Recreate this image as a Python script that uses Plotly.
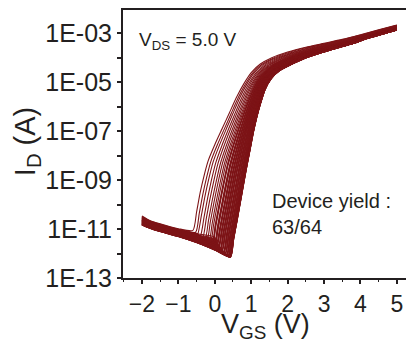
import plotly.graph_objects as go

# ---- data (log10 of drain current) ----
# rising branch of the earliest-turn-on device (VGS, log10 ID)
vgs_left = [-0.60, -0.50, -0.40, -0.30, -0.18, 0.0, 0.2, 0.4, 0.6, 0.8,
            1.0, 1.25, 1.55, 2.0, 2.5, 3.0, 3.5, 4.0, 4.5, 5.0]
logid_left = [-11.05, -10.3, -9.5, -8.85, -8.2, -7.55, -6.9, -6.25, -5.6, -5.05,
              -4.6, -4.25, -4.0, -3.76, -3.56, -3.4, -3.24, -3.05, -2.85, -2.65]
# rising branch of the latest-turn-on device
vgs_right = [0.43, 0.52, 0.62, 0.74, 0.86, 0.97, 1.06, 1.15, 1.25, 1.38,
             1.55, 1.78, 2.07, 2.45, 2.9, 3.35, 3.8, 4.2, 4.6, 5.0]
logid_right = [-12.15, -11.4, -10.6, -9.6, -8.6, -7.75, -7.05, -6.45, -5.9, -5.3,
               -4.85, -4.52, -4.29, -4.03, -3.8, -3.6, -3.41, -3.2, -3.03, -2.86]
# off-state branch (upper and lower edges of the band)
off_vgs = [-2.0, -1.8, -1.5, -1.0, -0.5, 0.0, 0.5]
off_top = [-10.42, -10.6, -10.75, -10.95, -11.1, -11.2, -11.3]
off_bottom = [-10.83, -10.95, -11.1, -11.3, -11.55, -11.85, -12.2]
# position of each of the 63 working devices within the threshold spread
device_shift = [0.0, 0.07, 0.13, 0.2, 0.26, 0.32, 0.37, 0.42, 0.46,
                0.5, 0.51, 0.52, 0.56, 0.57, 0.58, 0.585,
                0.62, 0.63, 0.635, 0.64, 0.67, 0.68, 0.685, 0.69,
                0.72, 0.725, 0.73, 0.74, 0.765, 0.77, 0.775, 0.78,
                0.81, 0.815, 0.82, 0.825, 0.83, 0.855, 0.86, 0.865, 0.87,
                0.895, 0.9, 0.905, 0.91, 0.915, 0.935, 0.94, 0.945, 0.95,
                0.955, 0.97, 0.973, 0.976, 0.98, 0.983, 0.986, 0.99, 0.993,
                0.995, 0.997, 0.999, 1.0]
# position of each device within the off-current band
device_off = [0.1, 0.3, 0.2, 0.5, 0.15, 0.4, 0.25, 0.6, 0.35, 0.7, 0.45, 0.55,
              0.3, 0.8, 0.5, 0.65, 0.2, 0.75, 0.4, 0.9, 0.6, 0.35, 0.85, 0.5,
              0.7, 0.45, 0.95, 0.55, 0.65, 0.3, 0.8, 0.6, 0.9, 0.5, 0.75,
              0.4, 0.85, 0.7, 0.95, 0.6, 0.8, 0.5, 0.9, 0.65, 1.0,
              0.55, 0.85, 0.75, 0.95, 0.7, 0.9, 0.6, 1.0, 0.8, 0.85,
              0.7, 0.95, 0.9, 1.0, 0.8, 0.95, 0.9, 1.0]

COLOR = "#7d1417"
fig = go.Figure()
for t, u in zip(device_shift, device_off):
    rv = [a + t * (b - a) for a, b in zip(vgs_left, vgs_right)]
    rl = [a + t * (b - a) for a, b in zip(logid_left, logid_right)]
    ov = [v for v in off_vgs if v < rv[0]]
    ol = [a + u * (b - a) for v, a, b in zip(off_vgs, off_top, off_bottom) if v < rv[0]]
    xs = ov + rv
    ys = [10 ** l for l in ol + rl]
    fig.add_trace(go.Scatter(x=xs, y=ys, mode="lines",
                             line=dict(color=COLOR, width=1.1, shape="spline", smoothing=0.6),
                             showlegend=False, hoverinfo="skip"))

FONT = "Liberation Sans, Arial, sans-serif"
TXT = "#231f20"
ytick_vals = [1e-13, 1e-11, 1e-9, 1e-7, 1e-5, 1e-3]
ytick_text = ["1E-13", "1E-11", "1E-09", "1E-07", "1E-05", "1E-03"]
yminor_vals = [1e-12, 1e-10, 1e-8, 1e-6, 1e-4]

fig.update_layout(
    width=406, height=341,
    margin=dict(l=123, r=0, t=10, b=63, autoexpand=False),
    paper_bgcolor="white", plot_bgcolor="white",
    font=dict(family=FONT, color=TXT),
    xaxis=dict(
        range=[-2.52, 5.25], tickmode="array", tickvals=[-2, -1, 0, 1, 2, 3, 4, 5],
        ticks="outside", ticklen=4, tickwidth=1.5, tickcolor=TXT,
        showline=True, linecolor=TXT, linewidth=2, mirror=True,
        showgrid=False, zeroline=False, automargin=False,
        tickfont=dict(size=23, family=FONT, color=TXT),
        minor=dict(dtick=0.5, tick0=0, ticks="outside", ticklen=2, tickwidth=1, tickcolor=TXT),
    ),
    yaxis=dict(
        type="log", range=[-13, -2.04], tickmode="array",
        tickvals=ytick_vals, ticktext=ytick_text,
        ticks="outside", ticklen=4, tickwidth=1.5, tickcolor=TXT,
        showline=True, linecolor=TXT, linewidth=2,
        showgrid=False, zeroline=False, automargin=False,
        tickfont=dict(size=25, family=FONT, color=TXT),
        minor=dict(tickvals=yminor_vals, ticks="outside", ticklen=4, tickwidth=1.5, tickcolor=TXT),
    ),
    annotations=[
        # axis titles
        dict(text="V<sub>GS</sub> (V)", xref="paper", yref="paper", x=0.502, y=-0.11,
             xanchor="center", yanchor="top", showarrow=False,
             font=dict(size=27, family=FONT, color=TXT)),
        dict(text="I<sub>D</sub> (A)", xref="paper", yref="paper", x=-0.339, y=0.507,
             xanchor="center", yanchor="middle", textangle=-90, showarrow=False,
             font=dict(size=29, family=FONT, color=TXT)),
        # in-plot labels
        dict(text="V<sub>DS</sub> = 5.0 V", xref="paper", yref="paper", x=0.05, y=0.886,
             xanchor="left", yanchor="middle", showarrow=False,
             font=dict(size=19, family=FONT, color=TXT)),
        dict(text="Device yield :<br>63/64", xref="paper", yref="paper", x=0.52, y=0.24,
             xanchor="left", yanchor="middle", showarrow=False, align="left",
             font=dict(size=20, family=FONT, color=TXT)),
    ],
)

fig.write_html("out.html")
